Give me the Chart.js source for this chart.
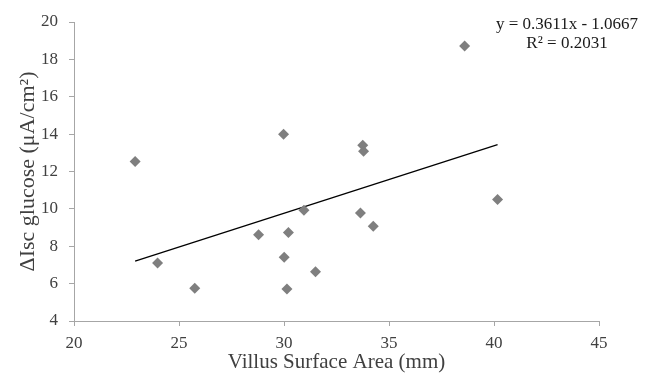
<!DOCTYPE html>
<html>
<head>
<meta charset="utf-8">
<script src="https://cdn.jsdelivr.net/npm/chart.js@4/dist/chart.umd.min.js"></script>
<style>
  html, body { margin: 0; padding: 0; background: #ffffff; }
  #wrap { width: 650px; height: 381px; }
</style>
</head>
<body>
<div id="wrap"><canvas id="c" width="650" height="381"></canvas></div>
<script>
// Villus surface area vs. glucose-stimulated short-circuit current
const surfaceArea = [22.91, 23.98, 25.75, 28.79, 29.98, 30.01, 30.21, 30.14, 30.95, 31.50, 33.64, 33.75, 33.79, 34.25, 38.60, 40.17];
const deltaIsc    = [12.53,  7.10,  5.75,  8.62, 14.00,  7.41,  8.73,  5.71,  9.92,  6.64,  9.78, 13.40, 13.08,  9.07, 18.71, 10.50];

// Linear fit reported on the chart
const fitSlope = 0.3611;
const fitIntercept = -1.0667;
const fitLabel = ['y = 0.3611x - 1.0667', 'R² = 0.2031'];

const xTicks = [20, 25, 30, 35, 40, 45];
const yTicks = [4, 6, 8, 10, 12, 14, 16, 18, 20];

const points = surfaceArea.map((x, i) => ({ x: x, y: deltaIsc[i] }));
const xMin = Math.min(...surfaceArea);
const xMax = Math.max(...surfaceArea);
const fitLine = [
  { x: xMin, y: fitSlope * xMin + fitIntercept },
  { x: xMax, y: fitSlope * xMax + fitIntercept }
];

const SERIF = '"Liberation Serif", "Times New Roman", serif';
const TEXT = '#404040';
const AXIS = '#a6a6a6';

// Equation and R² written in the upper right corner
const fitText = {
  id: 'fitText',
  afterDraw(chart) {
    const ctx = chart.ctx;
    ctx.save();
    ctx.fillStyle = '#1a1a1a';
    ctx.font = '17px ' + SERIF;
    ctx.textAlign = 'center';
    ctx.textBaseline = 'middle';
    ctx.fillText(fitLabel[0], 567, 25);
    ctx.fillText(fitLabel[1], 567, 44);
    ctx.restore();
  }
};

new Chart(document.getElementById('c'), {
  type: 'scatter',
  data: {
    datasets: [
      {
        label: 'Data',
        data: points,
        pointStyle: 'rectRot',
        pointRadius: 5.5,
        pointHoverRadius: 5.5,
        backgroundColor: '#7f7f7f',
        borderColor: '#7f7f7f',
        borderWidth: 0
      },
      {
        label: 'Linear fit',
        type: 'line',
        data: fitLine,
        borderColor: '#000000',
        borderWidth: 1.3,
        pointRadius: 0,
        fill: false
      }
    ]
  },
  options: {
    responsive: false,
    animation: false,
    devicePixelRatio: 1,
    layout: { padding: { top: 22, right: 51, left: 0, bottom: 0 } },
    plugins: {
      legend: { display: false },
      tooltip: { enabled: false }
    },
    scales: {
      x: {
        type: 'linear',
        min: 20,
        max: 45,
        afterBuildTicks: (s) => { s.ticks = xTicks.map(v => ({ value: v })); },
        afterFit: (s) => { s.height = 60; },
        grid: { display: true, drawOnChartArea: false, drawTicks: true, tickLength: 5, color: AXIS, lineWidth: 1 },
        border: { display: true, color: AXIS, width: 1 },
        ticks: { color: TEXT, font: { family: SERIF, size: 17 }, padding: 7, maxRotation: 0 },
        title: { display: true, text: 'Villus Surface Area (mm)', color: TEXT, font: { family: SERIF, size: 21 }, padding: { top: 0, bottom: 6 } }
      },
      y: {
        type: 'linear',
        min: 4,
        max: 20,
        afterBuildTicks: (s) => { s.ticks = yTicks.map(v => ({ value: v })); },
        afterFit: (s) => { s.width = 74; },
        grid: { display: true, drawOnChartArea: false, drawTicks: true, tickLength: 5, color: AXIS, lineWidth: 1 },
        border: { display: true, color: AXIS, width: 1 },
        ticks: { color: TEXT, font: { family: SERIF, size: 17 }, padding: 11 },
        title: { display: true, text: 'ΔIsc glucose (μA/cm²)', color: TEXT, font: { family: SERIF, size: 22 }, padding: { top: 15, bottom: 0 } }
      }
    }
  },
  plugins: [fitText]
});
</script>
</body>
</html>
